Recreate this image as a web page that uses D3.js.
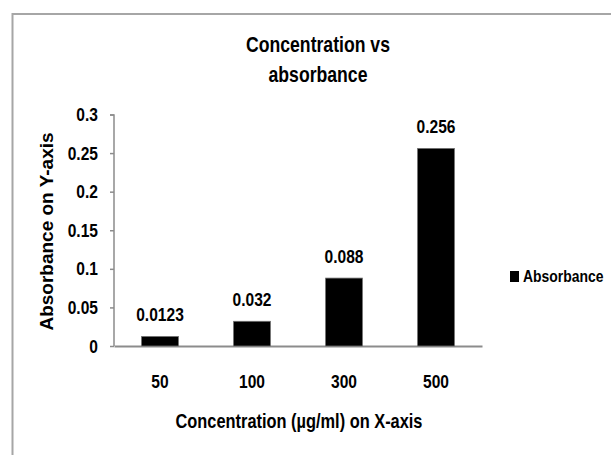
<!DOCTYPE html>
<html>
<head>
<meta charset="utf-8">
<script src="https://cdn.jsdelivr.net/npm/d3@7"></script>
<style>
  body { margin: 0; background: #fff; }
  svg { display: block; }
  text { font-family: "Liberation Sans", Arial, sans-serif; font-weight: bold; }
</style>
</head>
<body>
<div id="chart"></div>
<script>
const concentrations = ["50", "100", "300", "500"];
const absorbance = [0.0123, 0.032, 0.088, 0.256];
const valueLabels = ["0.0123", "0.032", "0.088", "0.256"];
const yTicks = [0, 0.05, 0.1, 0.15, 0.2, 0.25, 0.3];
const seriesName = "Absorbance";

const data = concentrations.map((c, i) => ({ conc: c, value: absorbance[i], label: valueLabels[i] }));

const W = 611, H = 455;
const margin = { top: 114.5, right: 129, bottom: 109, left: 114 };
const width = W - margin.left - margin.right;
const height = H - margin.top - margin.bottom;

const root = d3.select("#chart")
  .append("svg")
  .attr("width", W)
  .attr("height", H);

// outer chart frame (only top and left visible in the crop)
root.append("rect")
  .attr("x", 12.5)
  .attr("y", 14)
  .attr("width", 640)
  .attr("height", 480)
  .attr("fill", "none")
  .attr("stroke", "#a6a6a6")
  .attr("stroke-width", 2);

const svg = root.append("g")
  .attr("transform", `translate(${margin.left}, ${margin.top})`);

const x = d3.scaleBand()
  .domain(concentrations)
  .range([0, width])
  .paddingInner(0.6)
  .paddingOuter(0.3);

const y = d3.scaleLinear()
  .domain([0, 0.3])
  .range([height, 0]);

// y axis
const yAxis = svg.append("g")
  .attr("class", "narrow")
  .call(d3.axisLeft(y).tickValues(yTicks).tickSize(4).tickPadding(12).tickFormat(d3.format("~g")));
yAxis.selectAll("text").attr("font-size", 19).attr("fill", "#000");
yAxis.selectAll("line, path").attr("stroke", "#8c8c8c").attr("stroke-width", 1.5);
yAxis.select(".domain").attr("d", `M-4,0.5H0V${height}`);

// x axis
const xAxis = svg.append("g")
  .attr("class", "narrow")
  .attr("transform", `translate(0, ${height})`)
  .call(d3.axisBottom(x).tickSize(0).tickPadding(29));
xAxis.selectAll("text").attr("font-size", 19).attr("fill", "#000");
xAxis.select(".domain").attr("stroke", "#8c8c8c").attr("stroke-width", 2);

// bars
svg.selectAll(".bar")
  .data(data)
  .enter()
  .append("rect")
  .attr("class", "bar")
  .attr("x", (d) => x(d.conc))
  .attr("y", (d) => y(d.value))
  .attr("width", x.bandwidth())
  .attr("height", (d) => height - y(d.value))
  .attr("fill", "#000")
  .attr("stroke", "#6e6e6e")
  .attr("stroke-width", 0.8);

// value labels
svg.selectAll(".valueLabel")
  .data(data)
  .enter()
  .append("text")
  .attr("class", "valueLabel narrow")
  .attr("x", (d) => x(d.conc) + x.bandwidth() / 2)
  .attr("y", (d) => y(d.value) - 15)
  .attr("text-anchor", "middle")
  .attr("font-size", 19)
  .text((d) => d.label);

// title
const title = root.append("g")
  .attr("font-size", 21.5);
title.append("text").attr("class", "narrow").attr("text-anchor", "middle")
  .attr("x", 318).attr("y", 52).text("Concentration vs");
title.append("text").attr("class", "narrow").attr("text-anchor", "middle")
  .attr("x", 318).attr("y", 82).text("absorbance");

// axis titles
root.append("text")
  .attr("class", "narrow")
  .attr("x", 299)
  .attr("y", 428)
  .attr("text-anchor", "middle")
  .attr("font-size", 20)
  .text("Concentration (µg/ml) on X-axis");

root.append("text")
  .attr("transform", "translate(53, 231.5) rotate(-90)")
  .attr("text-anchor", "middle")
  .attr("font-size", 19)
  .text("Absorbance on Y-axis");

// legend
const legend = root.append("g").attr("transform", "translate(510, 271)");
legend.append("rect")
  .attr("width", 9)
  .attr("height", 11)
  .attr("fill", "#000");
legend.append("text")
  .attr("class", "narrow")
  .attr("x", 13)
  .attr("y", 11)
  .attr("font-size", 17)
  .text(seriesName);

// the original uses a narrow bold face; squeeze Liberation Sans Bold around each text's anchor
const squeeze = 0.82;
root.selectAll(".narrow text, text.narrow").each(function () {
  const ax = +d3.select(this).attr("x") || 0;
  d3.select(this).attr("transform", `matrix(${squeeze},0,0,1,${ax * (1 - squeeze)},0)`);
});
</script>
</body>
</html>
